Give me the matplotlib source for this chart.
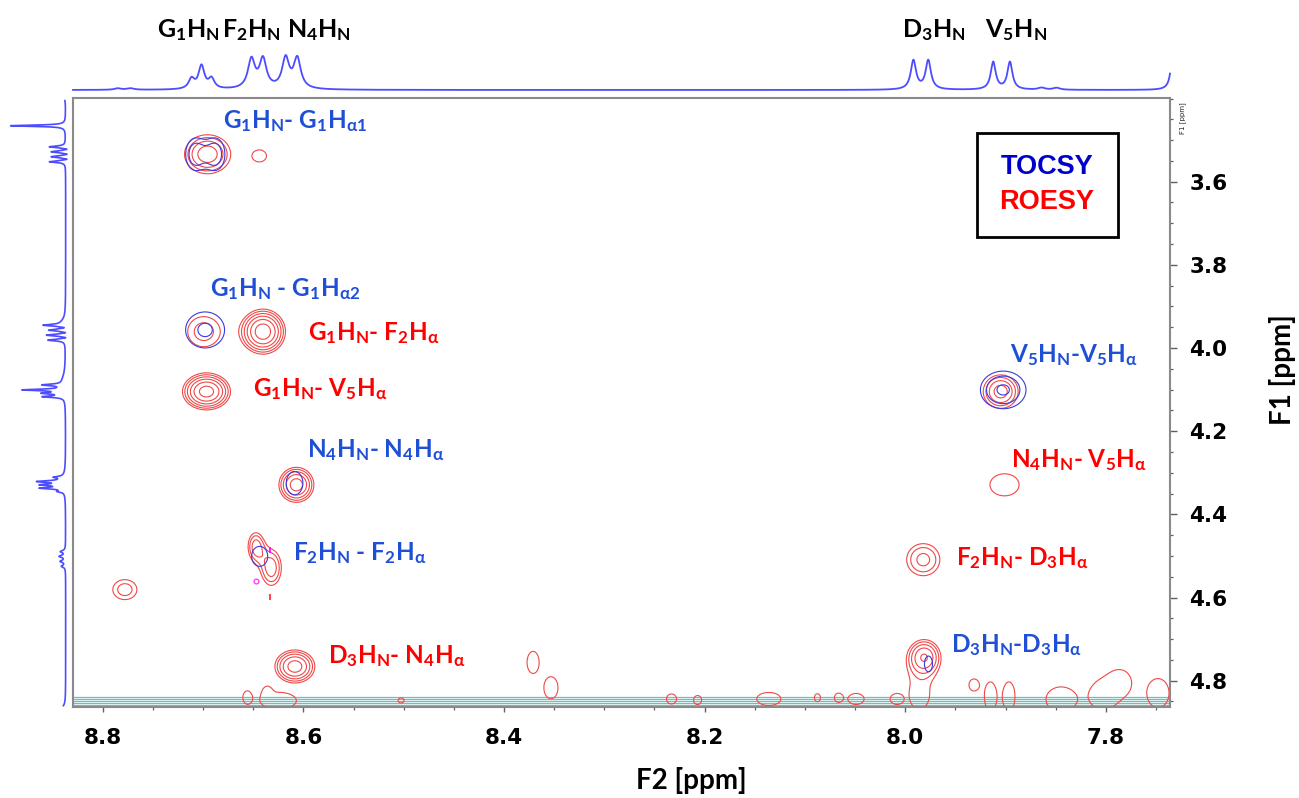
import numpy as np
import matplotlib
matplotlib.use("Agg")
import matplotlib.pyplot as plt
from matplotlib.patches import Rectangle
from matplotlib.ticker import MultipleLocator, FixedLocator

plt.rcParams['mathtext.default'] = 'regular'

# ================= DATA =================
# Top 1D projection (F2 axis): peak position (ppm), intensity, half width (ppm)
top_ppm = [8.785, 8.772, 8.7115, 8.7016, 8.6916, 8.6518, 8.6403, 8.6177, 8.6061,
           7.9918, 7.9770, 7.9122, 7.8956, 7.864, 7.849, 7.733]
top_int = [1.5, 1.5, 10, 23, 10, 29, 29, 30, 30, 29, 29, 27.5, 27.5, 2, 2, 40]
top_hw = [0.004, 0.004, 0.0035, 0.0035, 0.0035, 0.0042, 0.0042, 0.0042, 0.0042,
          0.0032, 0.0032, 0.003, 0.003, 0.004, 0.004, 0.0025]

# Left 1D projection (F1 axis)
left_ppm = [3.390, 3.4654, 3.516, 3.522, 3.528, 3.534, 3.540, 3.546, 3.552,
            3.940, 3.945, 3.951, 3.957, 3.963, 3.969, 3.975, 3.981,
            4.080, 4.0887, 4.1007, 4.1087, 4.117,
            4.320, 4.3106, 4.321, 4.329, 4.337, 4.345,
            4.4894, 4.501, 4.513, 4.525, 4.875]
left_int = [20, 55, 16, -5, 14, -5, 14, -5, 16,
            4, 19, -5, 15, -5, 18, -5, 17,
            3, 20, 40, 20, 21,
            3, 9, 24, 21, 23, 6,
            5, 6, 5, 4, 60]
left_hw = [0.003, 0.0018, 0.0022, 0.0015, 0.0022, 0.0015, 0.0022, 0.0015, 0.0022,
           0.012, 0.0022, 0.0015, 0.0022, 0.0015, 0.0022, 0.0015, 0.0022,
           0.02, 0.0022, 0.0020, 0.0022, 0.0022,
           0.015, 0.0022, 0.0022, 0.0022, 0.0022, 0.0022,
           0.003, 0.003, 0.003, 0.003, 0.003]

# ROESY cross peaks (red): F2 ppm, F1 ppm, contour half widths (ppm), relative amplitude
roesy_f2 = [8.6956, 8.6436, 8.6993, 8.6403, 8.6966, 8.6070, 8.6475, 8.6320, 8.7780,
            8.6085, 7.9048, 7.9010, 7.9820, 7.9810, 7.9860]
roesy_f1 = [3.534, 3.538, 3.9606, 3.9606, 4.1048, 4.329, 4.4774, 4.5286, 4.581,
            4.7659, 4.1048, 4.329, 4.509, 4.742, 4.835]
roesy_hw2 = [0.0229, 0.0067, 0.0160, 0.0224, 0.0239, 0.0174, 0.0075, 0.0100, 0.0120,
             0.0199, 0.0174, 0.0145, 0.0165, 0.0150, 0.0100]
roesy_hw1 = [0.0469, 0.0139, 0.0361, 0.0541, 0.0440, 0.0421, 0.0325, 0.0421, 0.0240,
             0.0397, 0.0402, 0.0265, 0.0385, 0.0385, 0.0330]
roesy_amp = [2.6, 1.25, 1.5, 4.4, 4.2, 3.3, 1.9, 2.0, 1.5,
             3.3, 2.5, 1.2, 1.85, 2.6, 1.15]

# ROESY noise near the solvent ridge (single lowest contour)
noise_f2 = [8.6560, 8.6250, 8.6360, 8.5026, 8.3710, 8.3532, 8.2330, 8.2070, 8.1360,
            8.0875, 8.0665, 8.0490, 8.0080, 7.9314, 7.9150, 7.8966, 7.8446,
            7.8027, 7.7858, 7.7480]
noise_f1 = [4.840, 4.848, 4.828, 4.8475, 4.756, 4.817, 4.844, 4.8466, 4.844,
            4.841, 4.841, 4.844, 4.844, 4.8103, 4.838, 4.838, 4.845,
            4.835, 4.805, 4.830]
noise_hw2 = [0.0040, 0.0180, 0.0040, 0.0030, 0.0060, 0.0070, 0.0050, 0.0040, 0.0120,
             0.0030, 0.0040, 0.0080, 0.0070, 0.0050, 0.0060, 0.0060, 0.0150,
             0.0130, 0.0110, 0.0110]
noise_hw1 = [0.0144, 0.0200, 0.0130, 0.0060, 0.0265, 0.0265, 0.0120, 0.0108, 0.0156,
             0.0096, 0.0108, 0.0132, 0.0132, 0.0144, 0.0350, 0.0350, 0.0300,
             0.0350, 0.0300, 0.0350]

# TOCSY cross peaks (blue)
tocsy_f2 = [8.7078, 8.6878, 8.6980, 7.9023, 8.6088, 8.6436, 7.9768]
tocsy_f1 = [3.534, 3.534, 3.9565, 4.1007, 4.325, 4.501, 4.7597]
tocsy_hw2 = [0.0095, 0.0095, 0.0194, 0.0227, 0.0083, 0.0080, 0.0040]
tocsy_hw1 = [0.0380, 0.0380, 0.0433, 0.0452, 0.0281, 0.0240, 0.0190]
tocsy_amp = [2.0, 2.0, 1.6, 2.4, 1.2, 1.2, 1.15]

# Solvent ridge (cyan lines), F1 ppm
cyan_f1 = [4.8385, 4.8433, 4.8481, 4.8529, 4.8577]

# small artefacts
magenta_f2 = [8.6335, 8.6470]
magenta_f1 = [4.4868, 4.5612]
redtick_f2 = [8.6330]
redtick_f1 = [4.5977]

# Labels
top_labels = ['G$_1$H$_N$', 'F$_2$H$_N$', 'N$_4$H$_N$', 'D$_3$H$_N$', 'V$_5$H$_N$']
peak_labels = [
    ('G$_1$H$_N$- G$_1$H$_{α1}$', 'blue', 8.6805, 3.4716),
    ('G$_1$H$_N$ - G$_1$H$_{α2}$', 'blue', 8.6931, 3.8742),
    ('G$_1$H$_N$- F$_2$H$_α$', 'red', 8.5951, 3.9807),
    ('G$_1$H$_N$- V$_5$H$_α$', 'red', 8.6500, 4.1154),
    ('N$_4$H$_N$- N$_4$H$_α$', 'blue', 8.5967, 4.2614),
    ('F$_2$H$_N$ - F$_2$H$_α$', 'blue', 8.6101, 4.5098),
    ('D$_3$H$_N$- N$_4$H$_α$', 'red', 8.5757, 4.7583),
    ('V$_5$H$_N$-V$_5$H$_α$', 'blue', 7.8955, 4.0329),
    ('N$_4$H$_N$- V$_5$H$_α$', 'red', 7.8945, 4.2854),
    ('F$_2$H$_N$- D$_3$H$_α$', 'red', 7.9494, 4.5218),
    ('D$_3$H$_N$-D$_3$H$_α$', 'blue', 7.9546, 4.7304),
]
x_major = [8.8, 8.6, 8.4, 8.2, 8.0, 7.8]
y_major = [3.6, 3.8, 4.0, 4.2, 4.4, 4.6, 4.8]

# ================= FIGURE =================
W, H = 1299, 798
fig = plt.figure(figsize=(W / 100, H / 100), dpi=100)


def fx(px):
    return px / W


def fy(py):
    return 1 - py / H


X0, X1 = 8.8297, 7.7360
Y0, Y1 = 3.3987, 4.8633

LABEL_FONT = 'Lato'
TICK_FONT = 'DejaVu Sans'
RED_C = '#f04848'
BLUE_C = '#3a3ae0'
SPEC_C = '#4d4dff'
LBL_BLUE = '#1f4fd6'
LBL_RED = '#ff0000'

ax = fig.add_axes([fx(73), fy(707), fx(1170) - fx(73), fy(98) - fy(707)])
ax.set_xlim(X0, X1)
ax.set_ylim(Y1, Y0)

# contour fields
g2 = np.linspace(X1 - 0.02, X0 + 0.02, 1400)
g1 = np.linspace(Y0 - 0.02, Y1 + 0.04, 900)
G2, G1 = np.meshgrid(g2, g1)


def field(f2s, f1s, hw2s, hw1s, amps):
    Z = np.zeros_like(G2)
    for c2, c1, h2, h1, a in zip(f2s, f1s, hw2s, hw1s, amps):
        k = np.sqrt(2 * np.log(a))
        s2, s1 = h2 / k, h1 / k
        Z += a * np.exp(-0.5 * (((G2 - c2) / s2) ** 2 + ((G1 - c1) / s1) ** 2))
    return Z


Zr = field(roesy_f2, roesy_f1, roesy_hw2, roesy_hw1, roesy_amp)
Zn = field(noise_f2, noise_f1, noise_hw2, noise_hw1, [2.0] * len(noise_f2))
Zt = field(tocsy_f2, tocsy_f1, tocsy_hw2, tocsy_hw1, tocsy_amp)

for yv in cyan_f1:
    ax.axhline(yv, color='#62c4c4', lw=0.9, zorder=1)
ax.contour(G2, G1, Zr, levels=1.3 ** np.arange(0, 9), colors=RED_C, linewidths=0.8, zorder=2)
ax.contour(G2, G1, Zn, levels=[1.0], colors=RED_C, linewidths=0.8, zorder=2)
ax.contour(G2, G1, Zt, levels=1.5 ** np.arange(0, 6), colors=BLUE_C, linewidths=0.8, zorder=3)
ax.plot(magenta_f2[:1], magenta_f1[:1], ls='none', marker='|', ms=5, mew=1.2, color='#ff00ff')
ax.plot(magenta_f2[1:], magenta_f1[1:], ls='none', marker='o', ms=3.5, mew=0.9,
        mfc='none', mec='#ff33ff')
ax.plot(redtick_f2, redtick_f1, ls='none', marker='|', ms=4, mew=1.2, color='#ff2020')

# axes styling
for s in ax.spines.values():
    s.set_color('#8a8a8a')
    s.set_linewidth(1.5)
ax.xaxis.set_major_locator(FixedLocator(x_major))
ax.xaxis.set_minor_locator(MultipleLocator(0.05))
ax.yaxis.set_major_locator(FixedLocator(y_major))
ax.yaxis.set_minor_locator(MultipleLocator(0.05))
ax.yaxis.tick_right()
ax.tick_params(axis='x', which='major', direction='out', length=3.8, width=1.0,
               color='#606060', pad=11)
ax.tick_params(axis='x', which='minor', direction='out', length=2.2, width=0.9,
               color='#606060')
ax.tick_params(axis='y', which='major', direction='out', length=4.8, width=1.0,
               color='#606060', pad=9)
ax.tick_params(axis='y', which='minor', direction='out', length=2.5, width=0.9,
               color='#606060')
ax.set_xticklabels([f'{v:.1f}' for v in x_major])
ax.set_yticklabels([f'{v:.1f}' for v in y_major])
for lab in ax.get_xticklabels() + ax.get_yticklabels():
    lab.set_fontfamily(TICK_FONT)
    lab.set_fontweight('bold')
    lab.set_fontsize(15.5)

# legend box
ax.add_patch(Rectangle(((976.7 - 73) / 1097, (707 - 236.7) / 609),
                       (1117.7 - 976.7) / 1097, (236.7 - 133.3) / 609,
                       transform=ax.transAxes, fc='white', ec='black', lw=2.0, zorder=5))
ax.text((1046.7 - 73) / 1097, (707 - 166.7) / 609, 'TOCSY', transform=ax.transAxes,
        ha='center', va='center', color='#0000cc', fontsize=19.5,
        fontweight='bold', family='Liberation Sans', zorder=6)
ax.text((1046.7 - 73) / 1097, (707 - 201.7) / 609, 'ROESY', transform=ax.transAxes,
        ha='center', va='center', color='#ff0000', fontsize=19.5,
        fontweight='bold', family='Liberation Sans', zorder=6)

# peak labels
for txt, col, xx, yy in peak_labels:
    ax.text(xx, yy, txt, color=LBL_BLUE if col == 'blue' else LBL_RED,
            fontsize=17.5, fontweight='bold', family=LABEL_FONT,
            ha='left', va='baseline', zorder=7)

# tiny internal axis title
fig.text(fx(1183), fy(118), 'F1 [ppm]', rotation=90, fontsize=5, ha='center',
         va='center', color='#222222')

# axis labels
fig.text(fx(691), fy(781), 'F2 [ppm]', fontsize=20, fontweight='bold',
         family=LABEL_FONT, ha='center', va='center')
fig.text(fx(1283), fy(370), 'F1 [ppm]', fontsize=20, fontweight='bold',
         family=LABEL_FONT, ha='center', va='center', rotation=90)

# top projection
axt = fig.add_axes([fx(73), fy(95), fx(1170) - fx(73), fy(40) - fy(95)])
axt.set_xlim(X0, X1)
axt.set_ylim(-5, 50)
xs = np.linspace(X1, X0, 6000)
ys = np.zeros_like(xs)
for p, h, w in zip(top_ppm, top_int, top_hw):
    ys += h / (1 + ((xs - p) / w) ** 2)
axt.plot(xs, ys, color=SPEC_C, lw=1.3, clip_on=False)
axt.axis('off')

# left projection
axl = fig.add_axes([0, fy(707), fx(73), fy(98) - fy(707)])
axl.set_ylim(Y1, Y0)
axl.set_xlim(65.7, -7.3)
yl = np.linspace(3.405, 4.86, 8000)
xl = np.zeros_like(yl)
for p, h, w in zip(left_ppm, left_int, left_hw):
    xl += h / (1 + ((yl - p) / w) ** 2)
axl.plot(xl, yl, color=SPEC_C, lw=1.2, clip_on=False)
axl.axis('off')

# top labels
for txt, px in zip(top_labels, [156.7, 221.7, 287.3, 901.7, 985.0]):
    fig.text(fx(px), fy(37.3), txt, fontsize=18, fontweight='bold',
             family=LABEL_FONT, ha='left', va='baseline', color='black')

fig.savefig('out.png', dpi=100)
